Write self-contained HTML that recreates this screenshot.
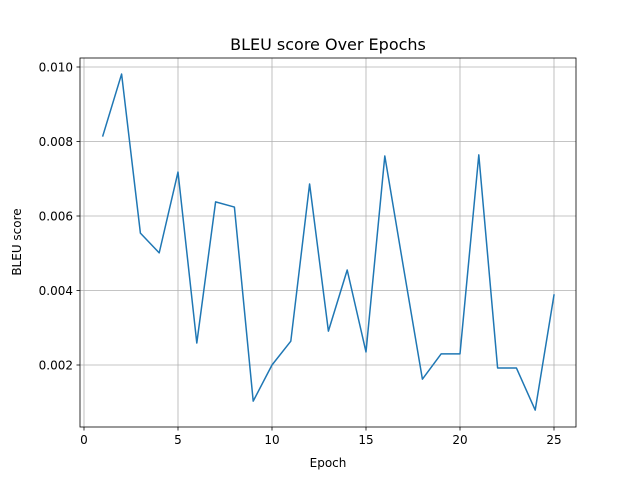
<!DOCTYPE html>
<html><head><meta charset="utf-8">
<style>
html,body{margin:0;padding:0;background:#fff;}
svg{display:block;font-family:"DejaVu Sans","Liberation Sans",sans-serif;}
</style></head>
<body>
<svg id="chart" width="640" height="480" viewBox="0 0 640 480">
<rect x="0" y="0" width="640" height="480" fill="#fff"/>
<text x="328" y="50" font-size="16" text-anchor="middle">BLEU score Over Epochs</text>
<text x="328" y="467" font-size="12" text-anchor="middle">Epoch</text>
<text x="21" y="242" font-size="12" text-anchor="middle" transform="rotate(-90 21 242)">BLEU score</text>
<g id="grid"></g>
<g id="ticks"></g>
<g id="series"></g>
<rect x="80" y="58" width="496" height="369" fill="none" stroke="#000" stroke-width="0.8"/>
</svg>
<script>
const epochs = [1,2,3,4,5,6,7,8,9,10,11,12,13,14,15,16,17,18,19,20,21,22,23,24,25];
const values = [0.00815,0.00981,0.00554,0.00501,0.00718,0.00259,0.00638,0.00624,0.00103,0.0020,0.00264,0.00686,0.00291,0.00455,0.00235,0.00761,0.0046,0.00162,0.0023,0.0023,0.00764,0.00192,0.00192,0.00079,0.00388];
const xTicks = [0,5,10,15,20,25];
const yTicks = [0.002,0.004,0.006,0.008,0.010];
const yTickLabels = ["0.002","0.004","0.006","0.008","0.010"];

const NS = "http://www.w3.org/2000/svg";
function xs(v){ return 84 + v*18.8; }
function ys(v){ return 439.5 - v*37250; }
function mk(tag, attrs, parent){ const e=document.createElementNS(NS,tag); for(const k in attrs) e.setAttribute(k,attrs[k]); parent.appendChild(e); return e; }
const grid=document.getElementById('grid'), ticks=document.getElementById('ticks'), series=document.getElementById('series');
xTicks.forEach(t=>{
  const x=xs(t);
  const g=mk('line',{x1:x,x2:x,y1:58,y2:427,stroke:'#b0b0b0','stroke-width':0.8},grid);
  
  
  mk('line',{x1:x,x2:x,y1:427,y2:430.5,stroke:'#000','stroke-width':0.8},ticks);
  const l=mk('text',{x:x,y:444,'font-size':12,'text-anchor':'middle'},ticks);
  l.textContent=String(t);
  
  
});
yTicks.forEach((t,i)=>{
  const y=ys(t);
  const g=mk('line',{x1:80,x2:576,y1:y,y2:y,stroke:'#b0b0b0','stroke-width':0.8},grid);
  
  
  mk('line',{x1:76.5,x2:80,y1:y,y2:y,stroke:'#000','stroke-width':0.8},ticks);
  const l=mk('text',{x:73,y:y+4.5,'font-size':12,'text-anchor':'end'},ticks);
  l.textContent=yTickLabels[i];
  
  
});
const pts=epochs.map((e,i)=>xs(e).toFixed(2)+','+ys(values[i]).toFixed(2)).join(' ');
const line=mk('polyline',{points:pts,fill:'none',stroke:'#1f77b4','stroke-width':1.5,'stroke-linejoin':'round','stroke-linecap':'square'},series);


</script>
</body></html>
